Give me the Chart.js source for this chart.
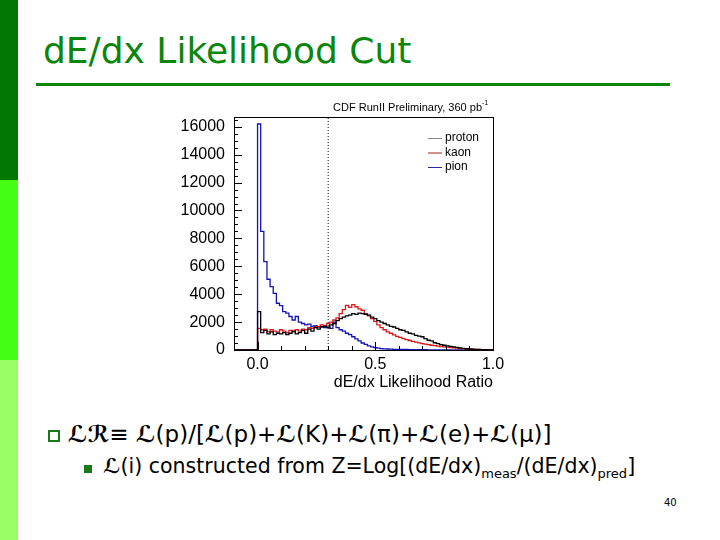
<!DOCTYPE html>
<html>
<head>
<meta charset="utf-8">
<script src="https://cdn.jsdelivr.net/npm/chart.js@4.4.1/dist/chart.umd.min.js"></script>
<style>
  body { margin: 0; width: 720px; height: 540px; background: #fff; position: relative; overflow: hidden; font-family: "DejaVu Sans", sans-serif; }
  .strip { position: absolute; left: 0; width: 18px; }
  #title { position: absolute; left: 43px; top: 30px; font-size: 36px; color: #0a860a; white-space: nowrap; }
  #rule { position: absolute; left: 36px; top: 83px; width: 634px; height: 3px; background: #0a860a; }
  #chartBox { position: absolute; left: 160px; top: 95px; width: 350px; height: 300px; }
  .b1 { position: absolute; left: 48px; top: 430px; width: 8px; height: 8px; border: 2px solid #1a7a1a; }
  .t1 { position: absolute; left: 68px; top: 421px; font-size: 23px; white-space: nowrap; color: #000; }
  .b2 { position: absolute; left: 84px; top: 465px; width: 8px; height: 8px; background: #1a7a1a; }
  .t2 { position: absolute; left: 103px; top: 454px; font-size: 20.5px; white-space: nowrap; color: #000; }
  .t2 sub { font-size: 13px; }
  .scr { font-style: italic; font-weight: bold; }
  #page { position: absolute; left: 664px; top: 497px; font-size: 10px; color: #000; }
</style>
</head>
<body>
<div class="strip" style="top:0;height:180px;background:#007800"></div>
<div class="strip" style="top:180px;height:180px;background:#44ff14"></div>
<div class="strip" style="top:360px;height:180px;background:#99ff66"></div>
<div id="title">dE/dx Likelihood Cut</div>
<div id="rule"></div>
<div id="chartBox"><canvas id="c" width="350" height="300"></canvas></div>
<div class="b1"></div>
<div class="t1"><span class="scr">ℒℛ</span>≡ <span class="scr">ℒ</span>(p)/[<span class="scr">ℒ</span>(p)+<span class="scr">ℒ</span>(K)+<span class="scr">ℒ</span>(π)+<span class="scr">ℒ</span>(e)+<span class="scr">ℒ</span>(μ)]</div>
<div class="b2"></div>
<div class="t2"><span class="scr">ℒ</span>(i) constructed from Z=Log[(dE/dx)<sub>meas</sub>/(dE/dx)<sub>pred</sub>]</div>
<div id="page">40</div>
<script>
// histogram: 75 bins between 0 and 1, counts
const binWidth = 1 / 75;
const protonCounts = [2750, 1250, 1400, 1150, 1300, 1100, 1200, 1150, 1250, 1100, 1200, 1350, 1150, 1250, 1400,
  1200, 1500, 1350, 1600, 1500, 1650, 1700, 1600, 1800, 1900, 2100, 2250, 2350, 2450, 2500,
  2600, 2550, 2650, 2600, 2550, 2500, 2350, 2250, 2100, 2000, 1900, 1800, 1700, 1650, 1550,
  1450, 1400, 1300, 1200, 1150, 1050, 1000, 950, 820, 700, 650, 520, 450, 380, 340,
  300, 260, 220, 190, 150, 120, 90, 70, 55, 45, 35, 30, 20, 15, 10];
const kaonCounts = [1550, 1450, 1500, 1300, 1450, 1350, 1300, 1450, 1350, 1250, 1400, 1300, 1450, 1350, 1500,
  1450, 1600, 1550, 1700, 1650, 1800, 1750, 1900, 2000, 2150, 2300, 2600, 2900, 3200, 3050,
  3250, 3100, 2950, 2850, 2600, 2450, 2250, 2050, 1800, 1600, 1450, 1300, 1200, 1080, 980,
  900, 820, 750, 680, 620, 560, 510, 460, 420, 380, 340, 310, 280, 250, 230,
  200, 180, 160, 140, 120, 100, 85, 70, 60, 50, 40, 30, 25, 20, 15];
const pionCounts = [16200, 8500, 6330, 5070, 4540, 4060, 3350, 3180, 2750, 2640, 2400, 2150, 2400, 2000, 1900,
  1800, 1850, 1700, 1750, 1650, 1700, 1600, 1650, 1550, 2000, 1600, 1450, 1350, 1200, 1100,
  950, 800, 650, 500, 400, 300, 220, 170, 130, 100, 80, 70, 60, 50, 50,
  40, 40, 35, 30, 30, 25, 25, 20, 20, 15, 15, 15, 10, 10, 10,
  10, 8, 8, 6, 6, 5, 5, 4, 4, 3, 3, 2, 2, 1, 1];
const seriesNames = ['proton', 'kaon', 'pion'];
const seriesColors = ['#000000', '#dd1a1a', '#1414b4'];
const legendColors = ['#8a8a8a', '#a52222', '#2a2aa0'];
const cutValue = 0.3;
const xMin = -0.1, xMax = 1.0;
const yMax = 16700;
const xTickLabels = [0, 0.5, 1.0];

// points at the low edge of each bin; last point closes the final bin at xMax
function histPoints(counts) {
  const pts = [{ x: xMin, y: 0 }, { x: 0, y: 0 }];
  counts.forEach((v, i) => {
    pts.push({ x: i * binWidth, y: v });
  });
  pts.push({ x: xMax, y: counts[counts.length - 1] });
  return pts;
}

const hists = [protonCounts, kaonCounts, pionCounts].map((counts, i) => ({
  label: seriesNames[i],
  data: histPoints(counts),
  borderColor: seriesColors[i],
  borderWidth: 1.3,
  stepped: 'before',
  pointRadius: 0,
  fill: false
}));

const cutLine = {
  label: 'cut',
  data: [{ x: cutValue, y: 0 }, { x: cutValue, y: yMax }],
  borderColor: '#000',
  borderWidth: 1,
  borderDash: [1, 2],
  pointRadius: 0
};

// frame, inner ROOT-style ticks, legend and label
const rootDecor = {
  id: 'rootDecor',
  afterDraw(chart) {
    const { ctx, chartArea: a, scales: { x, y } } = chart;
    ctx.save();
    ctx.strokeStyle = '#000';
    ctx.lineWidth = 1;
    ctx.strokeRect(a.left + 0.5, a.top + 0.5, a.right - a.left, a.bottom - a.top);
    ctx.beginPath();
    for (let v = 0; v <= yMax; v += 500) {
      const py = Math.round(y.getPixelForValue(v)) + 0.5;
      const len = v % 2000 === 0 ? 8 : 4;
      ctx.moveTo(a.left, py); ctx.lineTo(a.left + len, py);
    }
    for (let k = -1; k <= 10; k++) {
      const px = Math.round(x.getPixelForValue(k / 10)) + 0.5;
      const len = k % 5 === 0 ? 8 : 4;
      ctx.moveTo(px, a.bottom); ctx.lineTo(px, a.bottom - len);
    }
    ctx.stroke();

    ctx.font = '12px "Liberation Sans", Arial, sans-serif';
    ctx.textBaseline = 'middle';
    ctx.fillStyle = '#000';
    seriesNames.forEach((name, i) => {
      const ly = 43 + i * 14.5;
      ctx.strokeStyle = legendColors[i];
      ctx.beginPath();
      ctx.moveTo(268, ly + 0.5); ctx.lineTo(282, ly + 0.5);
      ctx.stroke();
      ctx.fillText(name, 285, ly);
    });

    ctx.font = '11px "Liberation Sans", Arial, sans-serif';
    ctx.textAlign = 'right';
    ctx.textBaseline = 'alphabetic';
    ctx.fillText('CDF RunII Preliminary, 360 pb', 322, 16);
    ctx.font = '7px "Liberation Sans", Arial, sans-serif';
    ctx.textAlign = 'left';
    ctx.fillText('-1', 322, 10);
    ctx.restore();
  }
};

new Chart(document.getElementById('c'), {
  type: 'line',
  data: { datasets: [...hists, cutLine] },
  options: {
    responsive: false,
    animation: false,
    layout: { padding: { top: 22, right: 17, left: 0, bottom: 0 } },
    plugins: { legend: { display: false }, tooltip: { enabled: false } },
    scales: {
      x: {
        type: 'linear',
        min: xMin,
        max: xMax,
        afterBuildTicks: (s) => { s.ticks = xTickLabels.map(v => ({ value: v })); },
        afterFit: (s) => { s.height = 45; },
        grid: { display: false, drawTicks: false },
        border: { display: false },
        ticks: {
          color: '#000',
          padding: 5,
          maxRotation: 0,
          font: { family: '"Liberation Sans", Arial, sans-serif', size: 16 },
          callback: (v) => Number(v).toFixed(1)
        },
        title: {
          display: true,
          text: 'dE/dx Likelihood Ratio',
          align: 'end',
          color: '#000',
          padding: { top: 0, bottom: 3 },
          font: { family: '"Liberation Sans", Arial, sans-serif', size: 16 }
        }
      },
      y: {
        min: 0,
        max: yMax,
        afterBuildTicks: (s) => {
          const t = [];
          for (let v = 0; v <= 16000; v += 2000) t.push({ value: v });
          s.ticks = t;
        },
        afterFit: (s) => { s.width = 74; },
        grid: { display: false, drawTicks: false },
        border: { display: false },
        ticks: {
          color: '#000',
          padding: 9,
          font: { family: '"Liberation Sans", Arial, sans-serif', size: 16 },
          callback: (v) => String(v)
        }
      }
    }
  },
  plugins: [rootDecor]
});
</script>
</body>
</html>
